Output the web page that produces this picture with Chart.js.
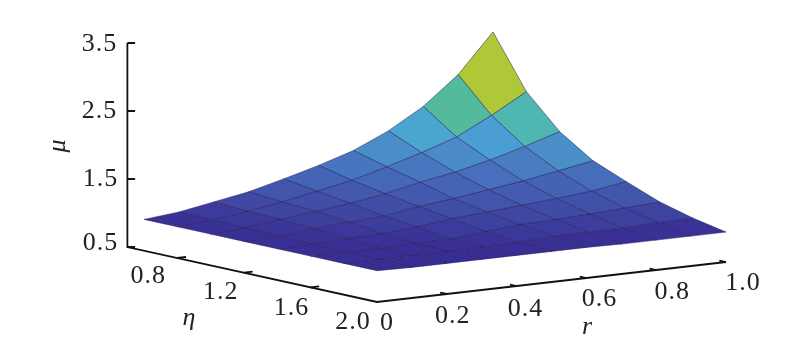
<!DOCTYPE html>
<html>
<head>
<meta charset="utf-8">
<title>mu surface</title>
<script src="https://cdn.jsdelivr.net/npm/chart.js@4/dist/chart.umd.min.js"></script>
<style>
  html, body { margin: 0; padding: 0; background: #fff; }
  canvas { display: block; filter: blur(0.4px); }
</style>
</head>
<body>
<canvas id="surfaceChart" width="800" height="347"></canvas>
<script>
// Grid of the surface
const rValues = [0, 0.1, 0.2, 0.3, 0.4, 0.5, 0.6, 0.7, 0.8, 0.9, 1.0];
const etaValues = [0.6, 0.8, 1.0, 1.2, 1.4, 1.6, 1.8, 2.0];

// mu, one list per eta, r going 0 -> 1
const muEta06 = [0.96, 1.01, 1.10, 1.19, 1.32, 1.46, 1.62, 1.85, 2.15, 2.56, 3.13];
const muEta08 = [0.96, 1.00, 1.07, 1.15, 1.25, 1.35, 1.49, 1.64, 1.81, 2.07, 2.36];
const muEta10 = [0.96, 1.00, 1.06, 1.12, 1.18, 1.26, 1.37, 1.46, 1.58, 1.72, 1.88];
const muEta12 = [0.96, 0.98, 1.03, 1.07, 1.10, 1.18, 1.24, 1.31, 1.38, 1.47, 1.56];
const muEta14 = [0.96, 0.97, 0.99, 1.01, 1.05, 1.11, 1.15, 1.19, 1.23, 1.28, 1.36];
const muEta16 = [0.96, 0.96, 0.96, 0.97, 0.98, 1.03, 1.07, 1.09, 1.11, 1.14, 1.17];
const muEta18 = [0.96, 0.96, 0.96, 0.96, 0.97, 0.98, 1.01, 1.01, 1.01, 1.03, 1.04];
const muEta20 = [0.96, 0.95, 0.95, 0.95, 0.95, 0.95, 0.95, 0.94, 0.94, 0.94, 0.94];
const muRows = [muEta06, muEta08, muEta10, muEta12, muEta14, muEta16, muEta18, muEta20];

// Tick labels
const muTicks = [0.5, 1.5, 2.5, 3.5];
const muTickLabels = ['0.5', '1.5', '2.5', '3.5'];
const etaTicks = [0.8, 1.2, 1.6, 2.0];
const etaTickLabels = ['0.8', '1.2', '1.6', '2.0'];
const rTicks = [0, 0.2, 0.4, 0.6, 0.8, 1.0];
const rTickLabels = ['0', '0.2', '0.4', '0.6', '0.8', '1.0'];

// Box limits
const etaBack = 0.5;
const muFloor = 0.5;
const muCeil = 3.5;

// Oblique view: r runs along x, eta slants back, mu goes straight up
const etaSlantX = 0.4768;
const etaSlantY = 0.539;
const rSlantY = 0.588;

function project(r, eta, mu) {
  return {
    x: r - (2 - eta) * etaSlantX,
    y: mu + (2 - eta) * etaSlantY + r * rSlantY
  };
}

// Colour ramp over mu
const rampStops = [
  [0.95, [56, 44, 146]],
  [1.10, [62, 68, 160]],
  [1.30, [68, 94, 178]],
  [1.50, [72, 120, 192]],
  [1.65, [74, 142, 200]],
  [1.85, [74, 164, 212]],
  [2.01, [79, 182, 176]],
  [2.15, [84, 186, 158]],
  [2.53, [175, 200, 56]]
];

function rampColor(v) {
  if (v <= rampStops[0][0]) return `rgb(${rampStops[0][1].join(',')})`;
  for (let i = 1; i < rampStops.length; i++) {
    if (v <= rampStops[i][0]) {
      const t = (v - rampStops[i - 1][0]) / (rampStops[i][0] - rampStops[i - 1][0]);
      const c = rampStops[i][1].map((ch, k) => Math.round(rampStops[i - 1][1][k] + (ch - rampStops[i - 1][1][k]) * t));
      return `rgb(${c.join(',')})`;
    }
  }
  return `rgb(${rampStops[rampStops.length - 1][1].join(',')})`;
}

const datasets = [];

// Surface cells
for (let e = 0; e < etaValues.length - 1; e++) {
  for (let k = 0; k < rValues.length - 1; k++) {
    const corners = [[e, k], [e, k + 1], [e + 1, k + 1], [e + 1, k], [e, k]];
    const mean = (muRows[e][k] + muRows[e][k + 1] + muRows[e + 1][k] + muRows[e + 1][k + 1]) / 4;
    const color = rampColor(mean);
    datasets.push({
      data: corners.map(c => project(rValues[c[1]], etaValues[c[0]], muRows[c[0]][c[1]])),
      showLine: true,
      fill: 'shape',
      backgroundColor: color,
      borderColor: 'rgba(35, 28, 90, 0.5)',
      borderWidth: 1,
      pointRadius: 0,
      tension: 0
    });
  }
}

// Box axes and their ticks
function axisLine(points) {
  datasets.push({
    data: points,
    showLine: true,
    fill: false,
    borderColor: '#111',
    borderWidth: 1.8,
    pointRadius: 0,
    tension: 0
  });
}

axisLine([project(0, etaBack, muCeil), project(0, etaBack, muFloor), project(0, 2, muFloor), project(1, 2, muFloor)]);
muTicks.forEach(m => {
  axisLine([project(0, etaBack, m), project(0.022, etaBack, m - 0.0129)]);
});
etaTicks.slice(0, 3).forEach(e => {
  axisLine([project(0, e, muFloor), project(0.025, e, muFloor)]);
});
rTicks.slice(1).forEach(r => {
  axisLine([project(r, 2, muFloor), project(r, 1.96, muFloor)]);
});

// Real text for tick labels and axis titles, pixel nudges from the tick mark
const muLabelNudge = [[-27, -4], [-27, 0], [-28, 0], [-28, 1]];
const etaLabelNudge = [[-29, 18], [-23, 19], [-19, 21], [-24, 20]];
const rLabelNudge = [[10, 21], [6, 22], [9, 23], [13, 21], [16, 22], [17, 21]];

const labelPlugin = {
  id: 'boxLabels',
  afterDatasetsDraw(chart) {
    const { ctx, scales } = chart;
    const at = p => [scales.x.getPixelForValue(p.x), scales.y.getPixelForValue(p.y)];
    ctx.save();
    ctx.fillStyle = '#222';
    ctx.textAlign = 'center';
    ctx.textBaseline = 'middle';
    ctx.font = '26px "Liberation Serif"';
    ctx.letterSpacing = '1px';
    muTicks.forEach((m, i) => {
      const [x, y] = at(project(0, etaBack, m));
      ctx.fillText(muTickLabels[i], x + muLabelNudge[i][0], y + muLabelNudge[i][1]);
    });
    etaTicks.forEach((e, i) => {
      const [x, y] = at(project(0, e, muFloor));
      ctx.fillText(etaTickLabels[i], x + etaLabelNudge[i][0], y + etaLabelNudge[i][1]);
    });
    rTicks.forEach((r, i) => {
      const [x, y] = at(project(r, 2, muFloor));
      ctx.fillText(rTickLabels[i], x + rLabelNudge[i][0], y + rLabelNudge[i][1]);
    });

    // Axis titles
    ctx.letterSpacing = '0px';
    ctx.font = 'italic 26px "Liberation Serif"';
    ctx.fillText('η', 189, 318);
    ctx.fillText('r', 587, 327);
    ctx.translate(58, 146);
    ctx.rotate(-Math.PI / 2);
    ctx.fillText('μ', 0, 0);
    ctx.restore();
  }
};

new Chart(document.getElementById('surfaceChart').getContext('2d'), {
  type: 'scatter',
  data: { datasets: datasets },
  plugins: [labelPlugin],
  options: {
    responsive: false,
    animation: false,
    layout: { padding: 0 },
    plugins: {
      legend: { display: false },
      tooltip: { enabled: false },
      title: { display: false }
    },
    scales: {
      x: { type: 'linear', display: false, min: -1.0802, max: 1.2120 },
      y: { type: 'linear', display: false, min: -0.1618, max: 4.9412 }
    }
  }
});
</script>
</body>
</html>
